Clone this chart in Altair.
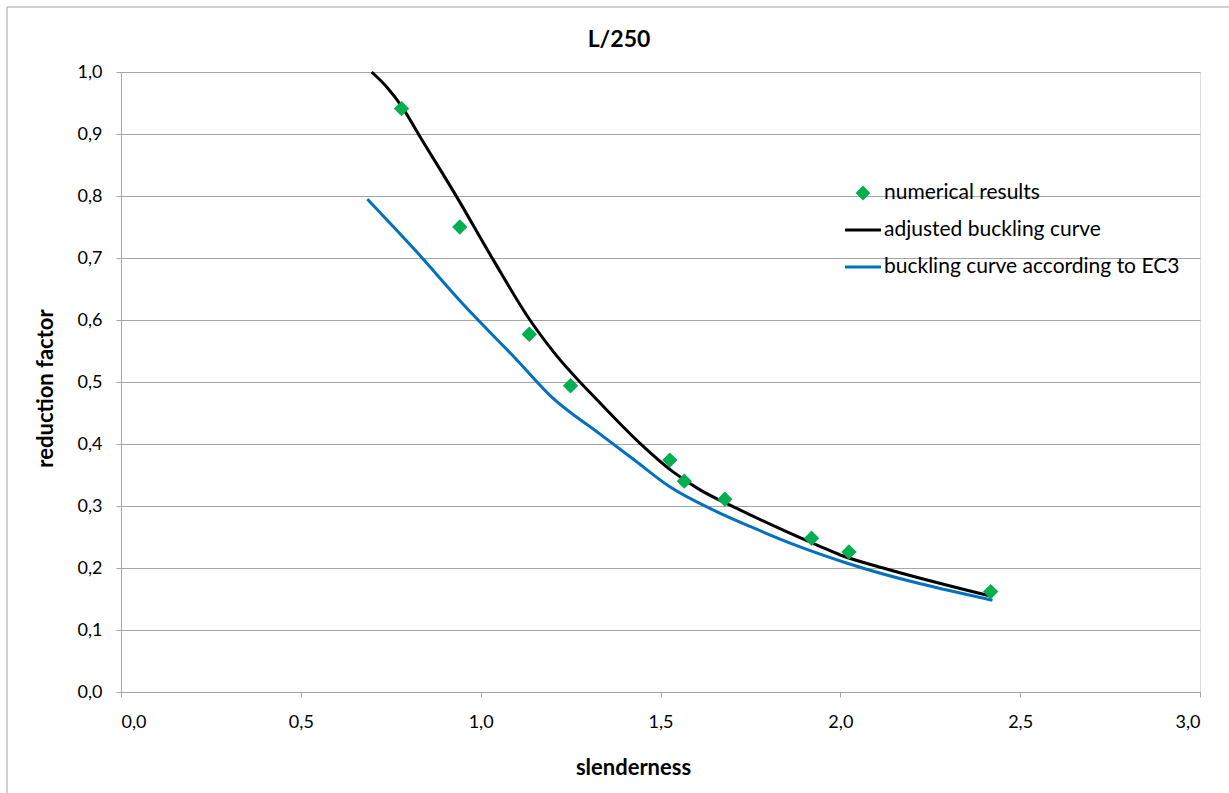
import altair as alt
import pandas as pd

# ---- data ----
num_x = [0.780, 0.942, 1.135, 1.250, 1.526, 1.566, 1.679, 1.920, 2.024, 2.418]
num_y = [0.941, 0.750, 0.577, 0.494, 0.374, 0.340, 0.311, 0.248, 0.226, 0.162]

adj_x = [0.697, 0.740, 0.780, 0.831, 0.933, 1.035, 1.137, 1.202, 1.332, 1.443,
         1.535, 1.610, 1.702, 1.841, 1.943, 2.000, 2.119, 2.423]
adj_y = [1.000, 0.975, 0.945, 0.896, 0.799, 0.697, 0.600, 0.549, 0.466, 0.401,
         0.355, 0.326, 0.299, 0.261, 0.235, 0.221, 0.200, 0.154]

ec_x = [0.685, 0.822, 0.952, 1.100, 1.197, 1.332, 1.430, 1.526, 1.656, 1.749, 1.888, 2.017, 2.423]
ec_y = [0.795, 0.710, 0.625, 0.536, 0.476, 0.416, 0.373, 0.331, 0.291, 0.267, 0.234, 0.208, 0.148]

series_names = ["numerical results", "adjusted buckling curve", "buckling curve according to EC3"]
series_colors = ["#00B050", "#000000", "#0070C0"]

x_ticks = [0.0, 0.5, 1.0, 1.5, 2.0, 2.5, 3.0]
y_ticks = [0.0, 0.1, 0.2, 0.3, 0.4, 0.5, 0.6, 0.7, 0.8, 0.9, 1.0]

chart_title = "L/250"

# ---- tables ----
df_num = pd.DataFrame({"x": num_x, "y": num_y, "series": series_names[0]})
df_adj = pd.DataFrame({"x": adj_x, "y": adj_y, "series": series_names[1]})
df_ec = pd.DataFrame({"x": ec_x, "y": ec_y, "series": series_names[2]})

FONT = "Lato"
GRID = "#a6a6a6"
label_expr = "replace(format(datum.value, '.1f'), '.', ',')"

diamond = "M0,-0.41L0.41,0L0,0.41L-0.41,0Z"
hline = "M-1,-0.083L1,-0.083L1,0.083L-1,0.083Z"

x_enc = alt.X(
    "x:Q",
    scale=alt.Scale(domain=[0, 3], nice=False, zero=False),
    axis=alt.Axis(
        values=x_ticks, grid=False, domainColor=GRID, tickColor=GRID, tickSize=5,
        labelFont=FONT, labelFontSize=18, labelColor="black", labelPadding=16,
        labelExpr=label_expr,
        title="slenderness", titleFont=FONT, titleFontSize=22, titleFontWeight="bold",
        titleColor="black", titleX=512, titleY=75, titleBaseline="middle", titleAlign="center",
    ),
)
y_enc = alt.Y(
    "y:Q",
    scale=alt.Scale(domain=[0, 1], nice=False, zero=False),
    axis=alt.Axis(
        values=y_ticks, grid=True, gridColor=GRID, domainColor=GRID, tickColor=GRID, tickSize=5,
        labelFont=FONT, labelFontSize=18, labelColor="black", labelPadding=14,
        labelExpr=label_expr,
        title="reduction factor", titleFont=FONT, titleFontSize=22, titleFontWeight="bold",
        titleColor="black", titleX=-76, titleY=316, titleBaseline="middle", titleAlign="center",
        titleAngle=270,
    ),
)

frame = alt.Chart(alt.Data(values=[{}])).mark_rect(
    fillOpacity=0, stroke="#a0a0a0", strokeWidth=1
).encode(
    x=alt.value(-114), x2=alt.value(1200), y=alt.value(-65), y2=alt.value(760)
)

title_text = alt.Chart(alt.Data(values=[{"t": chart_title}])).mark_text(
    font=FONT, fontSize=23, fontWeight="bold", color="black",
    align="center", baseline="middle"
).encode(x=alt.value(498), y=alt.value(-32), text="t:N")

line_adj = alt.Chart(df_adj).mark_line(
    color="#000000", strokeWidth=3, interpolate="monotone"
).encode(x=x_enc, y=y_enc)

line_ec = alt.Chart(df_ec).mark_line(
    color="#0070C0", strokeWidth=3, interpolate="monotone"
).encode(x="x:Q", y="y:Q")

leg = alt.Legend(
    orient="none", legendX=724, legendY=103, title=None,
    labelFont=FONT, labelFontSize=21, labelColor="black", labelOffset=3, labelLimit=500,
    symbolSize=1296, rowPadding=9, padding=0, symbolStrokeWidth=0,
    symbolOpacity=1,
)

points = alt.Chart(df_num).mark_point(filled=True, opacity=1, size=1400).encode(
    x="x:Q",
    y="y:Q",
    color=alt.Color(
        "series:N",
        scale=alt.Scale(domain=series_names, range=series_colors),
        legend=leg,
    ),
    shape=alt.Shape(
        "series:N",
        scale=alt.Scale(domain=series_names, range=[diamond, hline, hline]),
        legend=leg,
    ),
)

chart = alt.layer(frame, line_ec, line_adj, points, title_text).properties(
    width=1079,
    height=620,
    padding={"left": 121, "top": 72, "right": 29, "bottom": 101},
    autosize=alt.AutoSizeParams(type="none"),
).configure_view(stroke=None).configure(background="white")

chart.save("out.html", embed_options={"renderer": "svg", "actions": False})
